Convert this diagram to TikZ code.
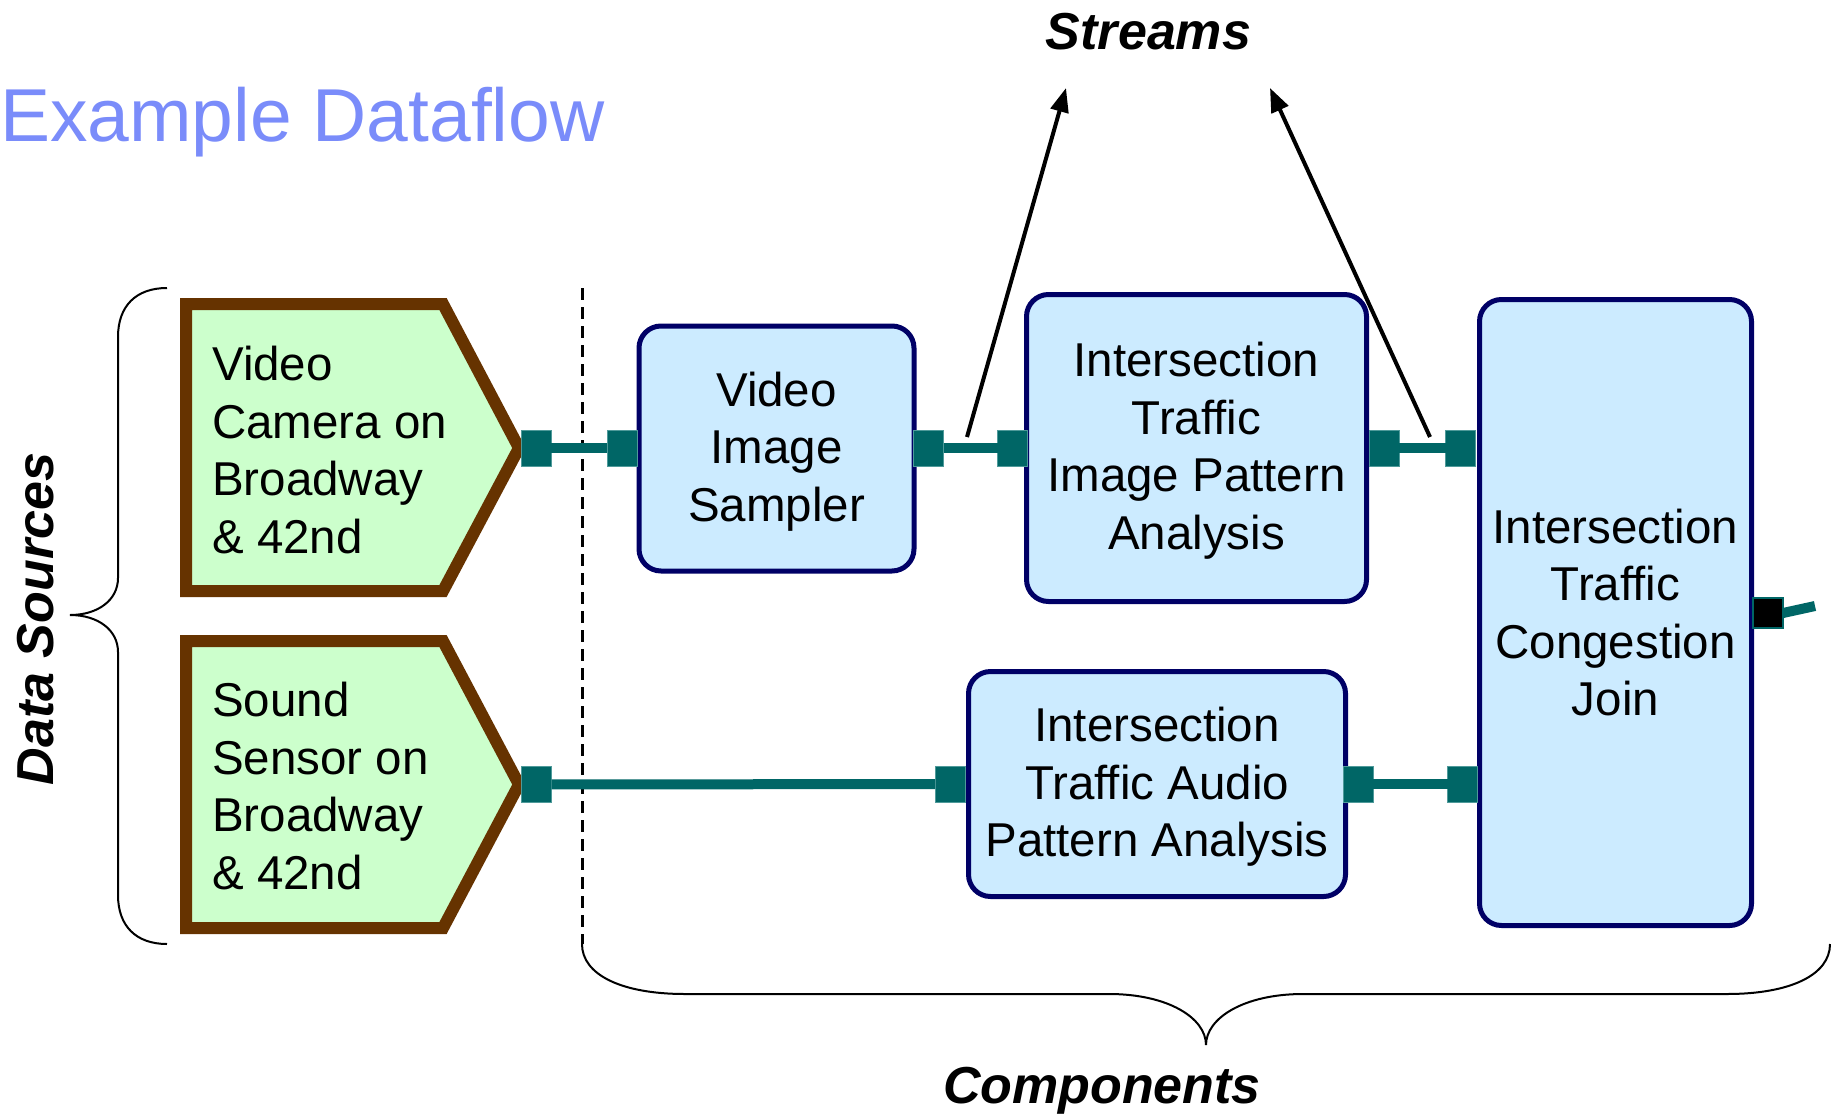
\documentclass[tikz,border=0pt]{standalone}
\usepackage{fontspec}
\setmainfont{Liberation Sans}
\usetikzlibrary{arrows.meta}

\definecolor{srcfill}{HTML}{CCFFCC}
\definecolor{srcline}{HTML}{663300}
\definecolor{compfill}{HTML}{CCEBFF}
\definecolor{compline}{HTML}{000066}
\definecolor{streamcol}{HTML}{006666}
\definecolor{portedge}{HTML}{4F9A9A}
\definecolor{titlecol}{RGB}{122,140,250}

\newcommand{\bodyfont}{\fontsize{47.5}{57.5}\selectfont}
\newcommand{\labelfont}{\fontsize{52}{60}\selectfont\bfseries\itshape}

\begin{document}
\begin{tikzpicture}[x=1pt,y=-1pt,
  srcshape/.style={draw=srcline, fill=srcfill, line width=12pt, miter limit=10},
  srctext/.style={anchor=west, align=left, font=\bodyfont, inner sep=0pt},
  comp/.style={draw=compline, fill=compfill, line width=5pt, rounded corners=22pt,
    align=center, font=\bodyfont, inner sep=0pt},
  port/.style={draw=portedge, fill=streamcol, line width=1pt,
    minimum width=30pt, minimum height=36pt, inner sep=0pt, outer sep=0pt},
  outport/.style={port, draw=streamcol, fill=black, line width=2pt, minimum height=30pt},
  link/.style={draw=streamcol, line width=10pt},
  note/.style={draw=black, line width=4pt, -{Triangle[length=24pt,width=18pt]}},
  brace/.style={draw=black, line width=2pt},
  lbl/.style={font=\labelfont, inner sep=0pt}]
\useasboundingbox (0,0) rectangle (1831,1114);

% title
\node[anchor=base west, inner sep=0pt, text=titlecol, font=\fontsize{75}{85}\selectfont]
  (title) at (0,141) {Example Dataflow};

% data sources
\path[srcshape] (186,304) -- (443,304) -- (519,448) -- (443,591) -- (186,591) -- cycle;
\node[srctext] (cam) at (212,450) {Video\\Camera on\\Broadway\\\& 42nd};
\path[srcshape] (186,641) -- (443,641) -- (519,784.5) -- (443,928) -- (186,928) -- cycle;
\node[srctext] (snd) at (212,786) {Sound\\Sensor on\\Broadway\\\& 42nd};

% separator between sources and components
\draw[black, line width=3pt, dash pattern=on 12pt off 7pt] (582,288) -- (582,944);

% components
\node[comp, minimum width=275pt, minimum height=245pt] (vis) at (776.5,448.5)
  {\strut Video\\Image\\Sampler};
\node[comp, minimum width=340pt, minimum height=307pt] (ipa) at (1196.5,448)
  {\strut Intersection\\Traffic\\Image Pattern\\Analysis};
\node[comp, minimum width=377pt, minimum height=225pt] (apa) at (1157,784)
  {\strut Intersection\\Traffic Audio\\Pattern Analysis};
\node[comp, minimum width=272pt, minimum height=626pt] (join) at (1615.5,612.5)
  {Intersection\\Traffic\\Congestion\\Join};

% ports
\node[port] (camout) at (536,448) {};
\node[port] (visin) at (622,448) {};
\node[port] (visout) at (928.5,448) {};
\node[port] (ipain) at (1012.5,448) {};
\node[port] (ipaout) at (1384,448) {};
\node[port] (joinin1) at (1460.5,448) {};
\node[port] (sndout) at (536.5,784.5) {};
\node[port] (apain) at (950,784) {};
\node[port] (apaout) at (1358,784) {};
\node[port] (joinin2) at (1462.5,784) {};
\node[outport] (joinout) at (1768,613) {};
\coordinate (joinnext) at (1815,606);

% streams
\draw[link] (camout) -- (visin);
\draw[link] (visout) -- (ipain);
\draw[link] (ipaout) -- (joinin1);
\draw[link] (sndout) -- (apain);
\draw[link] (apaout) -- (joinin2);
\draw[link] (joinout.east) -- (joinnext);

% stream annotation
\node[lbl, anchor=base] (streams) at (1148.5,49) {Streams};
\coordinate (s1) at (967,437);
\coordinate (s1tip) at (1066,88);
\coordinate (s2) at (1430,437);
\coordinate (s2tip) at (1270,88);
\draw[note] (s1) -- (s1tip);
\draw[note] (s2) -- (s2tip);

% data sources brace
\draw[brace] (167,288) .. controls (136,288) and (118,306) .. (118,337) -- (118,578)
  .. controls (118,600) and (98,615) .. (70,615)
  .. controls (98,615) and (118,630) .. (118,652) -- (118,895)
  .. controls (118,926) and (136,944) .. (167,944);
\node[lbl, rotate=90, anchor=base] (dsrc) at (53,619) {Data Sources};

% components brace
\draw[brace] (582,944) .. controls (582,975) and (622,994) .. (685,994) -- (1109,994)
  .. controls (1168,994) and (1206,1018) .. (1206,1045)
  .. controls (1206,1018) and (1244,994) .. (1303,994) -- (1727,994)
  .. controls (1790,994) and (1830,975) .. (1830,944);
\node[lbl, anchor=base] (comps) at (1102,1103) {Components};
\end{tikzpicture}
\end{document}
